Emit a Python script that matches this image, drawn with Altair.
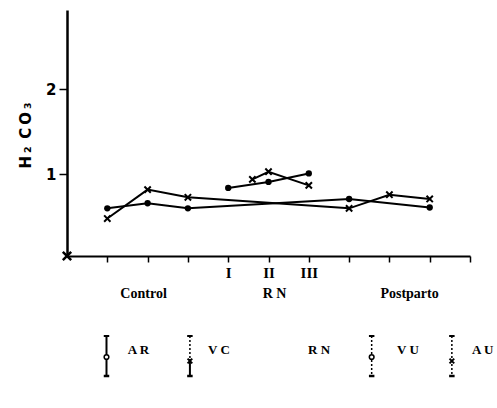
import altair as alt
import pandas as pd

# Stage index on x: 1-3 control, 4-6 RN (I, II, III), 7-9 postpartum
ar_x = [1, 2, 3, 7, 9]
ar_y = [0.60, 0.66, 0.60, 0.71, 0.61]
vc_x = [1, 2, 3, 7, 8, 9]
vc_y = [0.48, 0.82, 0.73, 0.60, 0.76, 0.71]
rn_dot_x = [4, 5, 6]
rn_dot_y = [0.84, 0.91, 1.01]
rn_cross_x = [4.6, 5, 6]
rn_cross_y = [0.94, 1.03, 0.87]
origin_x = [0]
origin_y = [0.04]

x_ticks = list(range(1, 11))
y_ticks = [1, 2]
roman = {4: "I", 5: "II", 6: "III"}
groups = ["Control", "R N", "Postparto"]
group_x = [1.9, 5.15, 8.5]

legend_text = ["A R", "V C", "R N", "V U", "A U"]
legend_text_x = [1.51, 3.5, 5.98, 8.19, 10.05]
legend_bar_x = [0.98, 3.05, 7.56, 9.55]
legend_bar_kind = ["solid", "half", "dotted", "dotted"]
legend_bar_mark = ["circle", "cross", "circle", "cross"]

SERIF = "Liberation Serif"
SANS = "DejaVu Sans"
CROSS = "M-1,-1L1,1M-1,1L1,-1"
DASH = "M-1,0L1,0"

rows = []
for x, y in zip(ar_x, ar_y):
    rows.append({"x": x, "v": y, "seg": "ar", "mk": "dot"})
for x, y in zip(vc_x, vc_y):
    rows.append({"x": x, "v": y, "seg": "vc", "mk": "cross"})
for x, y in zip(rn_dot_x, rn_dot_y):
    rows.append({"x": x, "v": y, "seg": "rn_dot", "mk": "dot"})
for x, y in zip(rn_cross_x, rn_cross_y):
    rows.append({"x": x, "v": y, "seg": "rn_cross", "mk": "cross"})
df = pd.DataFrame(rows)
origin = pd.DataFrame({"x": origin_x, "v": origin_y})

label_expr = " : ".join(
    f"datum.value == {k} ? '{v}'" for k, v in roman.items()
) + " : ''"

X = alt.X(
    "x:Q",
    scale=alt.Scale(domain=[0, 10], nice=False, zero=False),
    axis=alt.Axis(
        values=x_ticks, labelExpr=label_expr, title=None, grid=False,
        tickSize=6, tickWidth=1.5, tickColor="black",
        domainColor="black", domainWidth=2,
        labelFont=SERIF, labelFontWeight="bold", labelFontSize=15,
        labelColor="black", labelPadding=3, labelFlush=False,
    ),
)
Y = alt.Y(
    "v:Q",
    scale=alt.Scale(domain=[0.04, 2.93], nice=False, zero=False),
    axis=alt.Axis(
        values=y_ticks, format="d", title="H\u2009\u2082\u2002C\u2009O\u2009\u2083",
        grid=False, tickSize=8, tickWidth=1.5, tickColor="black",
        domainColor="black", domainWidth=2.5,
        labelFont=SANS, labelFontWeight="bold", labelFontSize=15,
        labelColor="black", labelPadding=3,
        titleFont=SANS, titleFontWeight="bold", titleFontSize=15,
        titleColor="black", titleAngle=270, titleX=-42, titleY=125,
        titleAlign="center", titleBaseline="middle",
    ),
)

lines = alt.Chart(df).mark_line(color="black", strokeWidth=2).encode(
    x=X, y=Y, detail="seg:N"
)
dots = alt.Chart(df).transform_filter("datum.mk == 'dot'").mark_circle(
    color="black", size=40, opacity=1
).encode(x=X, y=Y)
crosses = alt.Chart(df).transform_filter("datum.mk == 'cross'").mark_point(
    shape=CROSS, color="black", size=40, strokeWidth=2, filled=False, opacity=1
).encode(x=X, y=Y)
origin_mark = alt.Chart(origin).mark_point(
    shape=CROSS, color="black", size=70, strokeWidth=2.5, filled=False, opacity=1
).encode(x=X, y=Y)

# Stage group names under the axis
grp = pd.DataFrame({"x": group_x, "t": groups})
group_text = alt.Chart(grp).mark_text(
    font=SERIF, fontWeight="bold", fontSize=14, color="black",
    align="center", baseline="alphabetic",
).encode(x=X, y=alt.value(288), text="t:N")

# Legend keys: error-bar glyphs with their codes
leg = pd.DataFrame({
    "x": legend_bar_x, "kind": legend_bar_kind, "m": legend_bar_mark,
})
BAR_TOP, BAR_MID, BAR_BOT = 326, 349, 366
bar_solid = alt.Chart(leg).transform_filter("datum.kind == 'solid'").mark_rule(
    color="black", strokeWidth=2
).encode(x=X, y=alt.value(BAR_TOP), y2=alt.value(BAR_BOT))
bar_half_top = alt.Chart(leg).transform_filter("datum.kind == 'half'").mark_rule(
    color="black", strokeWidth=1.5, strokeDash=[2, 2]
).encode(x=X, y=alt.value(BAR_TOP), y2=alt.value(BAR_MID))
bar_half_bot = alt.Chart(leg).transform_filter("datum.kind == 'half'").mark_rule(
    color="black", strokeWidth=2
).encode(x=X, y=alt.value(BAR_MID), y2=alt.value(BAR_BOT))
bar_dotted = alt.Chart(leg).transform_filter("datum.kind == 'dotted'").mark_rule(
    color="black", strokeWidth=1.5, strokeDash=[2, 2]
).encode(x=X, y=alt.value(BAR_TOP), y2=alt.value(BAR_BOT))
cap_top = alt.Chart(leg).mark_point(
    shape=DASH, color="black", size=30, strokeWidth=2, filled=False, opacity=1
).encode(x=X, y=alt.value(BAR_TOP))
cap_bot = alt.Chart(leg).mark_point(
    shape=DASH, color="black", size=30, strokeWidth=2.5, filled=False, opacity=1
).encode(x=X, y=alt.value(BAR_BOT))
key_circle = alt.Chart(leg).transform_filter("datum.m == 'circle'").mark_point(
    shape="circle", color="black", fill="white", size=22, strokeWidth=1.5,
    filled=True, opacity=1, stroke="black",
).encode(x=X, y=alt.value(BAR_MID - 2))
key_cross = alt.Chart(leg).transform_filter("datum.m == 'cross'").mark_point(
    shape=CROSS, color="black", size=22, strokeWidth=2, filled=False, opacity=1
).encode(x=X, y=alt.value(BAR_MID + 2))

legt = pd.DataFrame({"x": legend_text_x, "t": legend_text})
legend_labels = alt.Chart(legt).mark_text(
    font=SERIF, fontWeight="bold", fontSize=13, color="black",
    align="left", baseline="middle",
).encode(x=X, y=alt.value(340), text="t:N")

chart = alt.layer(
    lines, dots, crosses, origin_mark, group_text,
    bar_solid, bar_half_top, bar_half_bot, bar_dotted, cap_top, cap_bot,
    key_circle, key_cross, legend_labels,
).properties(
    width=403, height=246,
    background="white",
    autosize=alt.AutoSizeParams(type="none"),
    padding={"left": 67, "top": 10, "right": 27, "bottom": 152},
).configure_view(stroke=None, strokeWidth=0, clip=False)

chart.save("out.html", embed_options={"renderer": "svg", "actions": False})
